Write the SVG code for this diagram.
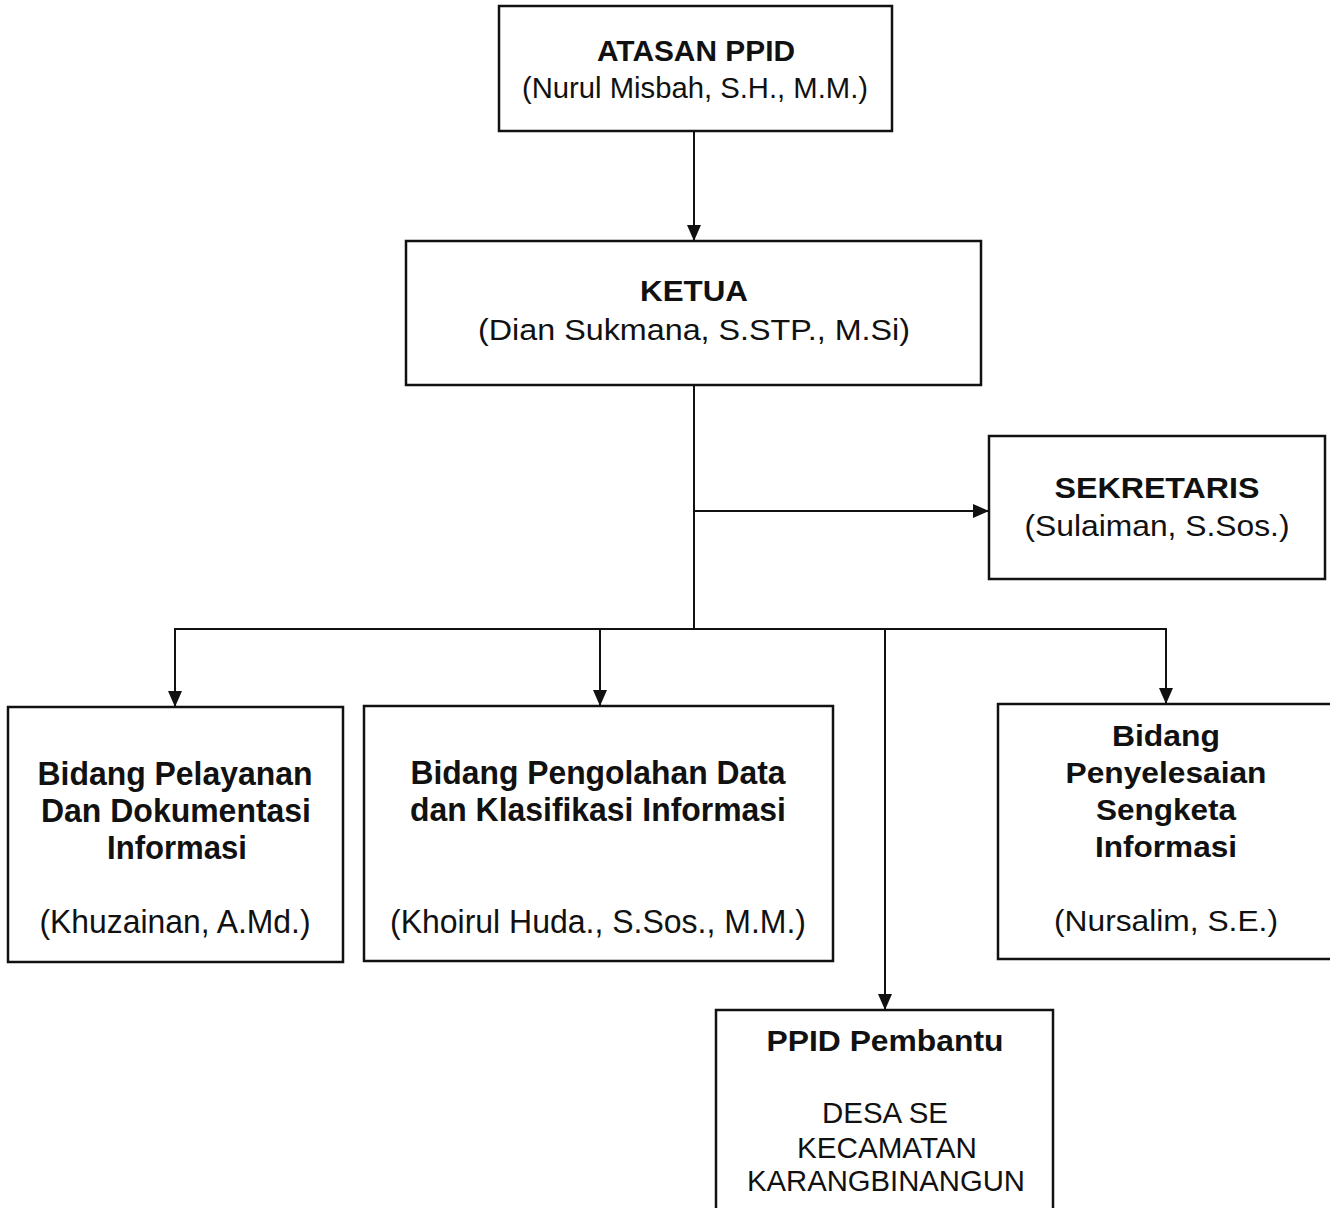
<svg xmlns="http://www.w3.org/2000/svg" width="1330" height="1208" viewBox="0 0 1330 1208">
<style>
.box{fill:#fff;stroke:#111;stroke-width:2.5}
.con{fill:none;stroke:#111;stroke-width:2}
text{font-family:"Liberation Sans",Arial,sans-serif;font-size:30px;fill:#111;text-anchor:middle}
.b{font-weight:bold}
.n{font-size:33px}
</style>
<defs>
<marker id="arr" viewBox="0 0 16 14" markerWidth="16" markerHeight="14" refX="16" refY="7" orient="auto" markerUnits="userSpaceOnUse">
<path d="M0,0 L16,7 L0,14 z" fill="#111"/>
</marker>
</defs>
<rect width="1330" height="1208" fill="#fff"/>
<g id="connectors">
<line class="con" x1="694" y1="131" x2="694" y2="241" marker-end="url(#arr)"/>
<line class="con" x1="694" y1="385" x2="694" y2="629"/>
<line class="con" x1="694" y1="511" x2="989" y2="511" marker-end="url(#arr)"/>
<line class="con" x1="175" y1="629" x2="1166" y2="629"/>
<line class="con" x1="175" y1="628" x2="175" y2="707" marker-end="url(#arr)"/>
<line class="con" x1="600" y1="628" x2="600" y2="706" marker-end="url(#arr)"/>
<line class="con" x1="1166" y1="628" x2="1166" y2="704" marker-end="url(#arr)"/>
<line class="con" x1="885" y1="628" x2="885" y2="1010" marker-end="url(#arr)"/>
</g>
<g id="atasan">
<rect class="box" x="499" y="6" width="393" height="125"/>
<text class="b" x="696" y="61" textLength="198" lengthAdjust="spacingAndGlyphs">ATASAN PPID</text>
<text x="695" y="98" textLength="346" lengthAdjust="spacingAndGlyphs">(Nurul Misbah, S.H., M.M.)</text>
</g>
<g id="ketua">
<rect class="box" x="406" y="241" width="575" height="144"/>
<text class="b" x="694" y="301" textLength="108" lengthAdjust="spacingAndGlyphs">KETUA</text>
<text x="694" y="340" textLength="432" lengthAdjust="spacingAndGlyphs">(Dian Sukmana, S.STP., M.Si)</text>
</g>
<g id="sekretaris">
<rect class="box" x="989" y="436" width="336" height="143"/>
<text class="b" x="1157" y="498" textLength="205" lengthAdjust="spacingAndGlyphs">SEKRETARIS</text>
<text x="1157" y="536" textLength="265" lengthAdjust="spacingAndGlyphs">(Sulaiman, S.Sos.)</text>
</g>
<g id="pelayanan">
<rect class="box" x="8" y="707" width="335" height="255"/>
<text class="b n" x="175" y="785" textLength="275" lengthAdjust="spacingAndGlyphs">Bidang Pelayanan</text>
<text class="b n" x="176" y="822" textLength="270" lengthAdjust="spacingAndGlyphs">Dan Dokumentasi</text>
<text class="b n" x="177" y="859" textLength="140" lengthAdjust="spacingAndGlyphs">Informasi</text>
<text class="n" x="175" y="933" textLength="271" lengthAdjust="spacingAndGlyphs">(Khuzainan, A.Md.)</text>
</g>
<g id="pengolahan">
<rect class="box" x="364" y="706" width="469" height="255"/>
<text class="b n" x="598" y="784" textLength="375" lengthAdjust="spacingAndGlyphs">Bidang Pengolahan Data</text>
<text class="b n" x="598" y="821" textLength="376" lengthAdjust="spacingAndGlyphs">dan Klasifikasi Informasi</text>
<text class="n" x="598" y="933" textLength="416" lengthAdjust="spacingAndGlyphs">(Khoirul Huda., S.Sos., M.M.)</text>
</g>
<g id="penyelesaian">
<rect class="box" x="998" y="704" width="340" height="255"/>
<text class="b" x="1166" y="746" textLength="108" lengthAdjust="spacingAndGlyphs">Bidang</text>
<text class="b" x="1166" y="783" textLength="201" lengthAdjust="spacingAndGlyphs">Penyelesaian</text>
<text class="b" x="1166" y="820" textLength="140" lengthAdjust="spacingAndGlyphs">Sengketa</text>
<text class="b" x="1166" y="857" textLength="142" lengthAdjust="spacingAndGlyphs">Informasi</text>
<text x="1166" y="931" textLength="224" lengthAdjust="spacingAndGlyphs">(Nursalim, S.E.)</text>
</g>
<g id="pembantu">
<rect class="box" x="716" y="1010" width="337" height="220"/>
<text class="b" x="885" y="1051" textLength="237" lengthAdjust="spacingAndGlyphs">PPID Pembantu</text>
<text x="885" y="1123" textLength="126" lengthAdjust="spacingAndGlyphs">DESA SE</text>
<text x="887" y="1158" textLength="180" lengthAdjust="spacingAndGlyphs">KECAMATAN</text>
<text x="886" y="1191" textLength="278" lengthAdjust="spacingAndGlyphs">KARANGBINANGUN</text>
</g>
</svg>
